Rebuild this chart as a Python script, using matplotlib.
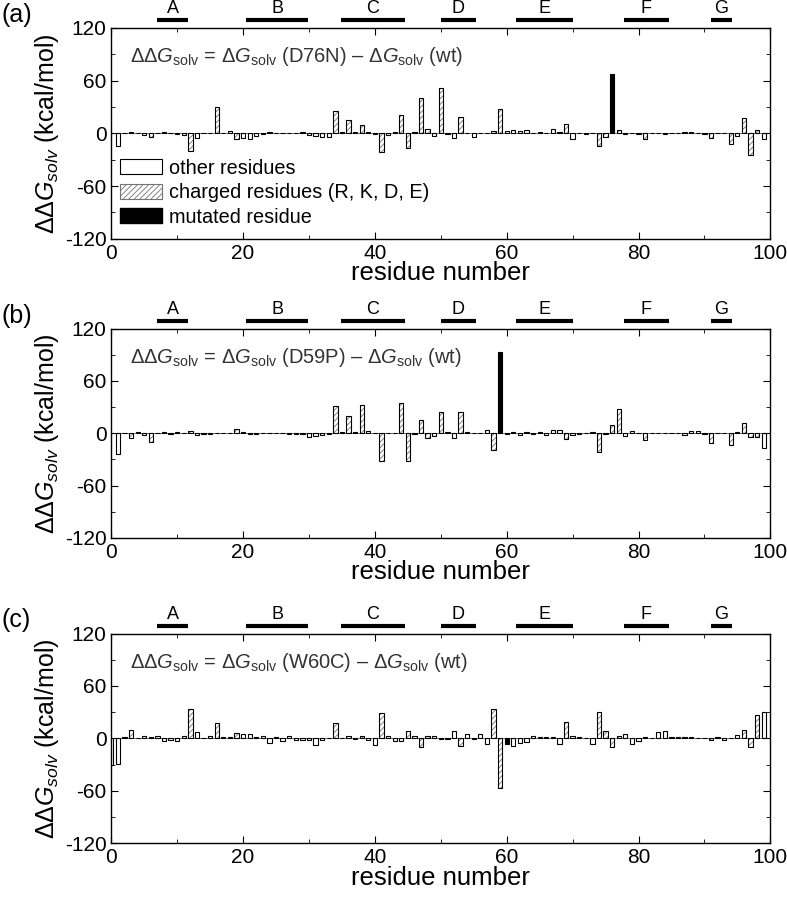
import numpy as np
import matplotlib.pyplot as plt
from matplotlib.patches import Patch
from matplotlib.ticker import MultipleLocator
from matplotlib.transforms import blended_transform_factory

plt.rcParams['font.family'] = ['Liberation Sans', 'DejaVu Sans']
plt.rcParams['mathtext.fontset'] = 'custom'
plt.rcParams['mathtext.rm'] = 'Liberation Sans'
plt.rcParams['mathtext.it'] = 'Liberation Sans:italic'
plt.rcParams['hatch.linewidth'] = 0.6
plt.rcParams['axes.unicode_minus'] = False

# beta2-microglobulin with Met0, residues 0..99
sequence = 'MIQRTPKIQVYSRHPAENGKSNFLNCYVSGFHPSDIEVDLLKNGERIEKVEHSDLSFSKDWSFYLLYYTEFTPTEKDEYACRVNHVTLSQPKIVKWDRDM'
residues = np.arange(len(sequence))

# strands above the plots
strand_names = ['A', 'B', 'C', 'D', 'E', 'F', 'G']
strand_start = [6.9, 20.4, 34.8, 50.0, 61.4, 77.8, 91.0]
strand_end = [11.7, 29.9, 44.5, 55.3, 70.1, 84.6, 94.2]

# ddG solv, kcal/mol
ddg_d76n = [0, -15, 0.5, 1, 0, -1.5, -4.5, 0, 1, 0,
            -1, -2, -20, -5, 0, 0, 30, 0, 3, -7,
            -5, -7, -3, -1, 2, 0, 0.5, 0, 0, 1,
            -2, -3, -4, -4, 25, 1, 15, 2, 9.5, 1,
            -1, -21, -2, 2, 21, -17, 1, 40, 5, -3,
            52, -0.5, -5, 18, 0, -4, 0.5, 0.5, 3, 28,
            3, 4, 3, 4, 0, 2, 0, 5, 2, 11,
            -6, 0, -1, 0, -15, -4, 67, 4, -1, 0,
            -1, -7, 0, 0, -0.5, 0, 0, 1, 1, 0,
            -1, -5, 0, 0, -12, -3, 17, -25, 4, -6]

ddg_d59p = [0, -24, 0, -5.5, 1, -2, -10, 0, 2, -1,
            2, 0, 3, -2, -1, -1, 0, 0, 0.5, 4.5,
            1, -1, -0.5, 0, 0, 0, 0, -1, -1, -1,
            -4, -3, -2, -1, 31, 1, 20, 1, 33, 3,
            0, -32, 0, 0, 35, -32, -1, 15, -5, -3,
            25, 1, -5, 24, 1, 0, 0, 4, -19, 93,
            -1, 1, -2, 2, -1, 2, -2, 4, 4, -7,
            -2, -1, 0, 1, -21, -1, 10, 28, -3, 3,
            0, -8, 0, 0, 0, 0, 0, -2, 3, 3,
            -1, -11, 0, 0, -13, 1, 12, -4, -4, -17]

ddg_w60c = [-30, -29, 1, 9.5, 0, 2.7, 1, 2.7, -2.7, -2,
            -2.7, 2.3, 33.6, 7.6, 0.5, 3, 17, 2, 2, 6.5,
            5, 5, 1, 3, -5, 2, -2.7, 3, -2, -2,
            -2, -7.6, -2, 0, 18, 0.5, 3, -1, 3, -2,
            -7.6, 29, 3, -3, -3, 8.4, 3, -9.5, 3, 3,
            -1, -1, 8.4, -8.8, 5, -1, 5.3, -6, 33, -57,
            -6, -9, -5.7, -4.6, 2.7, 1, 2, 1, -6.5, 19,
            3, 2, 0, -7, 30, 8.4, -9.5, 3, 5, -6,
            -2.7, 1, 0, 7, 8.4, 1, 2, 2, 2, 0,
            0, -2, 2, -2, 0, 4, 9, -10, 27, 30.5]

panels = ['(a)', '(b)', '(c)']
mutants = ['D76N', 'D59P', 'W60C']
mutated = [76, 59, 60]
data = [ddg_d76n, ddg_d59p, ddg_w60c]

charged = np.array([aa in 'RKDE' for aa in sequence])

fig = plt.figure(figsize=(7.87, 8.99), dpi=100)
W, H = 787, 899
boxes = [(27.8, 238.8), (328.7, 537.9), (633.5, 843.1)]
width = 0.65

for k in range(3):
    top, bot = boxes[k]
    ax = fig.add_axes([111.3 / W, 1 - bot / H, 659 / W, (bot - top) / H])
    vals = np.array(data[k])
    is_mut = residues == mutated[k]
    is_ch = charged & ~is_mut
    is_other = ~charged & ~is_mut

    ax.axhline(0, color='0.35', lw=0.6, zorder=0.5)
    ax.bar(residues[is_other], vals[is_other], width, color='white',
           edgecolor='black', lw=0.8)
    ax.bar(residues[is_ch], vals[is_ch], width, color='white',
           edgecolor='0.45', hatch='//////', lw=0)
    ax.bar(residues[is_ch], vals[is_ch], width, fill=False,
           edgecolor='black', lw=0.8)
    ax.bar(residues[is_mut], vals[is_mut], width, color='black',
           edgecolor='black', lw=0.8)

    ax.set_xlim(0, 100)
    ax.set_ylim(-120, 120)
    ax.xaxis.set_major_locator(MultipleLocator(20))
    ax.xaxis.set_minor_locator(MultipleLocator(10))
    ax.yaxis.set_major_locator(MultipleLocator(60))
    ax.yaxis.set_minor_locator(MultipleLocator(30))
    ax.tick_params(which='both', direction='in', top=True, right=True)
    ax.tick_params(which='major', length=5, labelsize=15)
    ax.tick_params(which='minor', length=3)
    for s in ax.spines.values():
        s.set_linewidth(1.0)

    ax.set_xlabel('residue number', fontsize=18.5, labelpad=-1)
    ax.set_ylabel(r'$\Delta\Delta G_{solv}$ (kcal/mol)', fontsize=18, labelpad=3)

    ax.text(0.028, 0.862,
            r'$\Delta\Delta G_{\mathrm{solv}}$ = $\Delta G_{\mathrm{solv}}$ (' + mutants[k]
            + r') – $\Delta G_{\mathrm{solv}}$ (wt)',
            transform=ax.transAxes, fontsize=14.5, va='center', color='0.2')

    # strand bars
    trans = blended_transform_factory(ax.transData, ax.transAxes)
    for name, a, b in zip(strand_names, strand_start, strand_end):
        ax.plot([a, b], [1.038, 1.038], color='black', lw=3, transform=trans,
                clip_on=False, solid_capstyle='butt')
        ax.text((a + b) / 2, 1.09, name, transform=trans, ha='center',
                va='center', fontsize=13)

    fig.text(0.002, 1 - (top - 13) / H, panels[k], fontsize=18, va='center')

    if k == 0:
        handles = [Patch(facecolor='white', edgecolor='black', lw=0.8),
                   Patch(facecolor='white', edgecolor='0.45', hatch='//////', lw=0.8),
                   Patch(facecolor='black', edgecolor='black')]
        ax.legend(handles, ['other residues', 'charged residues (R, K, D, E)',
                            'mutated residue'],
                  loc='upper left', bbox_to_anchor=(0.013, 0.38), frameon=False,
                  fontsize=14.3, handlelength=2.1, handleheight=0.8,
                  handletextpad=0.35, labelspacing=0.28, borderpad=0,
                  borderaxespad=0)

fig.savefig('out.png', dpi=100)
